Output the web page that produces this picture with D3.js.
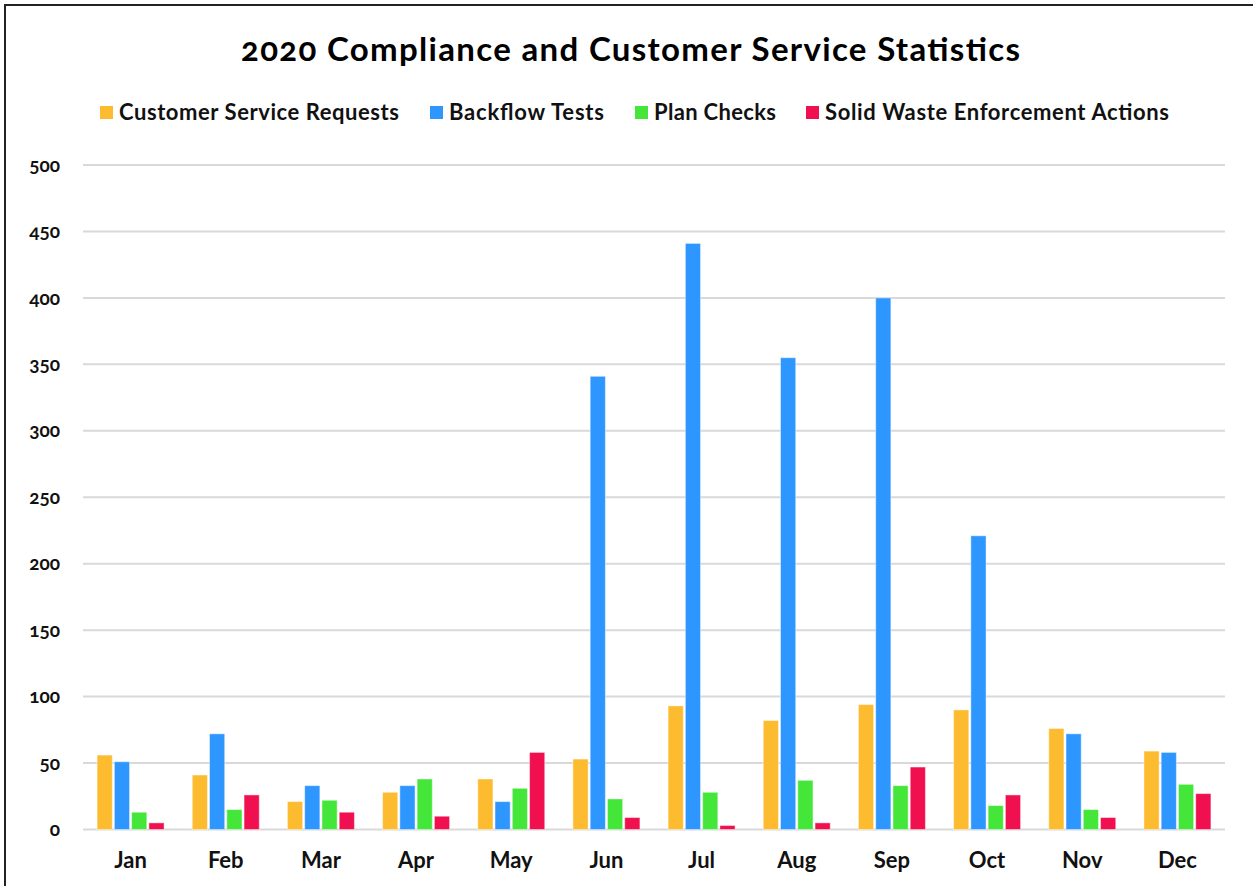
<!DOCTYPE html>
<html><head><meta charset="utf-8">
<script src="https://cdn.jsdelivr.net/npm/d3@7"></script>
<style>
html,body{margin:0;padding:0;background:#fff;overflow:hidden;}
text{font-family:Lato,"Open Sans",sans-serif;font-feature-settings:"onum";}
</style></head>
<body><svg id="c" width="1253" height="886"></svg>
<script>
const months = ["Jan","Feb","Mar","Apr","May","Jun","Jul","Aug","Sep","Oct","Nov","Dec"];
const seriesNames = ["Customer Service Requests","Backflow Tests","Plan Checks","Solid Waste Enforcement Actions"];
const seriesColors = ["#FDBB2F","#2E96FF","#45E63A","#F0104F"];
const customerService = [56,41,21,28,38,53,93,82,94,90,76,59];
const backflow = [51,72,33,33,21,341,441,355,400,221,72,58];
const planChecks = [13,15,22,38,31,23,28,37,33,18,15,34];
const solidWaste = [5,26,13,10,58,9,3,5,47,26,9,27];
const yTicks = [0,50,100,150,200,250,300,350,400,450,500];
const title = "2020 Compliance and Customer Service Statistics";

const allSeries = [customerService, backflow, planChecks, solidWaste];
const svg = d3.select("#c");

// frame
svg.append("rect").attr("x",5).attr("y",5).attr("width",1300).attr("height",1000)
  .attr("fill","none").attr("stroke","#222").attr("stroke-width",2);

const pLeft = 83, pRight = 1225, pTop = 165, pBottom = 829.5;
const x = d3.scaleBand().domain(months).range([pLeft,pRight]).paddingInner(0.296).paddingOuter(0.148);
const x1 = d3.scaleBand().domain(d3.range(4)).range([0,x.bandwidth()]).paddingInner(0.12);
const y = d3.scaleLinear().domain([0,500]).range([pBottom,pTop]);

// gridlines
svg.append("g").selectAll("line").data(yTicks).join("line")
  .attr("x1",pLeft).attr("x2",pRight).attr("y1",d=>y(d)).attr("y2",d=>y(d))
  .attr("stroke","#d9d9d9").attr("stroke-width",2);

// y labels
svg.append("g").selectAll("text").data(yTicks).join("text")
  .attr("x",60).attr("y",d=>y(d)).attr("dy","0.35em").attr("text-anchor","end")
  .attr("font-size",19).attr("font-weight","bold").attr("fill","#111").text(d=>d);

// bars
const g = svg.append("g");
months.forEach((m,i)=>{
  allSeries.forEach((s,j)=>{
    g.append("rect").attr("x",x(m)+x1(j)).attr("width",x1.bandwidth())
      .attr("y",y(s[i])).attr("height",y(0)-y(s[i]))
      .attr("fill",seriesColors[j]).attr("stroke","#fff").attr("stroke-opacity",0.45).attr("stroke-width",1);
  });
});

// x labels
svg.append("g").selectAll("text").data(months).join("text")
  .attr("x",d=>x(d)+x.bandwidth()/2).attr("y",868).attr("text-anchor","middle")
  .attr("font-size",22).attr("font-weight","bold").attr("fill","#111").text(d=>d);

// title
svg.append("text").attr("x",630.5).attr("y",61).attr("text-anchor","middle")
  .attr("font-size",33).attr("font-weight","bold").attr("fill","#000")
  .attr("textLength",779).attr("lengthAdjust","spacing").text(title);

// legend
const legX = [100,430,635,806];
const legW = [280,155,122,344];
const lg = svg.append("g");
seriesNames.forEach((n,j)=>{
  lg.append("rect").attr("x",legX[j]).attr("y",106).attr("width",13).attr("height",13).attr("fill",seriesColors[j]);
  lg.append("text").attr("x",legX[j]+19).attr("y",112.5).attr("dy","0.35em")
    .attr("font-size",22).attr("font-weight","bold").attr("fill","#111")
    .attr("textLength",legW[j]).attr("lengthAdjust","spacing").text(n);
});
</script></body></html>
